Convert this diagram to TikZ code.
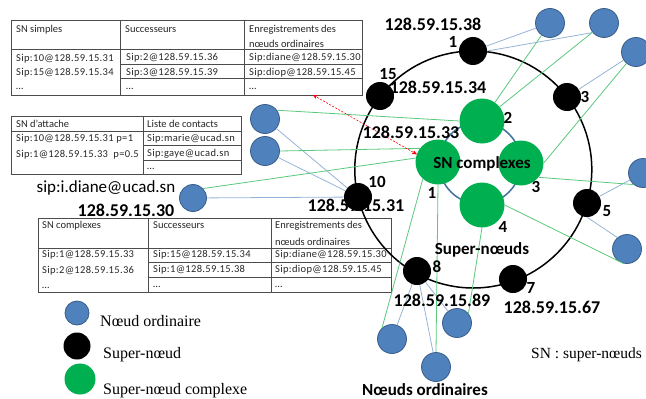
\documentclass[tikz,border=0pt]{standalone}
\usepackage{fontspec}
\setmainfont{Carlito}
\newfontfamily\timesfont{Liberation Serif}
\newfontfamily\sipfont[LetterSpace=3.2]{Carlito}
\usepackage{tikz}
\usetikzlibrary{arrows}
\definecolor{bleunoeud}{RGB}{79,129,189}
\definecolor{bordbleu}{RGB}{56,93,138}
\definecolor{vertsn}{RGB}{0,176,80}
\definecolor{lienbleu}{RGB}{149,179,215}
\definecolor{lienvert}{RGB}{90,200,125}
\definecolor{anneaubleu}{RGB}{65,113,156}

\begin{document}
\begin{tikzpicture}[x=1pt,y=-1pt]
\tikzstyle{ordinaire} = [circle, fill=bleunoeud, draw=bordbleu, line width=0.8pt, minimum size=29pt, inner sep=0pt]
\tikzstyle{super} = [circle, fill=black, minimum size=28pt, inner sep=0pt]
\tikzstyle{complexe} = [circle, fill=vertsn, minimum size=45pt, inner sep=0pt]
\tikzstyle{blue edge} = [draw=lienbleu, line width=0.8pt]
\tikzstyle{green edge} = [draw=lienvert, line width=0.8pt]
\tikzstyle{grille} = [draw=black!70, line width=0.9pt]
\tikzstyle{cell} = [anchor=base west, inner sep=0pt, font=\fontsize{10.5}{12}\selectfont, text=black!85]
\tikzstyle{sip} = [cell, font=\sipfont\fontsize{10.5}{12}\selectfont]
\tikzstyle{ip} = [inner sep=0pt, font=\fontsize{18}{18}\selectfont\bfseries]
\tikzstyle{num} = [inner sep=0pt, font=\fontsize{17}{17}\selectfont\bfseries]
\tikzstyle{legende} = [anchor=base west, inner sep=0pt, font=\timesfont\fontsize{16}{16}\selectfont]

\useasboundingbox (0,0) rectangle (646,399);

% tableaux
\draw[grille] (11,20) rectangle (362,95);
\draw[grille] (11,49) -- (362,49);
\draw[grille] (120,20) -- (120,95);
\draw[grille] (244,20) -- (244,95);
\draw[grille] (120,64) -- (362,64);
\draw[grille] (120,78) -- (362,78);

\draw[grille] (11,116) rectangle (241,174);
\draw[grille] (11,131) -- (241,131);
\draw[grille] (143,116) -- (143,174);
\draw[grille] (143,145) -- (241,145);
\draw[grille] (143,160) -- (241,160);

\draw[grille] (38,218) rectangle (391,292);
\draw[grille] (38,248) -- (391,248);
\draw[grille] (148,218) -- (148,292);
\draw[grille] (271,218) -- (271,292);
\draw[grille] (148,262) -- (391,262);
\draw[grille] (148,277) -- (391,277);

\node[cell] (t1h1) at (16,32) {SN simples};
\node[cell] (t1h2) at (125,32) {Successeurs};
\node[cell] (t1h3) at (249,32) {Enregistrements des};
\node[cell] (t1h4) at (249,47) {nœuds ordinaires};
\node[sip] (t1a1) at (16,61) {Sip:10@128.59.15.31};
\node[sip] (t1a2) at (16,75.5) {Sip:15@128.59.15.34};
\node[cell] (t1a3) at (16,89) {…};
\node[sip] (t1b1) at (126,60.5) {Sip:2@128.59.15.36};
\node[sip] (t1b2) at (126,75) {Sip:3@128.59.15.39};
\node[cell] (t1b3) at (126,89) {…};
\node[sip] (t1c1) at (249,60.5) {Sip:diane@128.59.15.30};
\node[sip] (t1c2) at (249,75) {Sip:diop@128.59.15.45};
\node[cell] (t1c3) at (249,89) {…};

\node[cell] (t2h1) at (16,127) {SN d’attache};
\node[cell] (t2h2) at (147,127) {Liste de contacts};
\node[sip] (t2a1) at (16,141) {Sip:10@128.59.15.31 p=1};
\node[sip] (t2a2) at (16,157.5) {Sip:1@128.59.15.33~ p=0.5};
\node[sip] (t2b1) at (147,141) {Sip:marie@ucad.sn};
\node[sip] (t2b2) at (147,156) {Sip:gaye@ucad.sn};
\node[cell] (t2b3) at (147,169.5) {…};

\node[cell] (t3h1) at (42,228.5) {SN complexes};
\node[cell] (t3h2) at (153,228.5) {Successeurs};
\node[cell] (t3h3) at (275,228.5) {Enregistrements des};
\node[cell] (t3h4) at (275,245) {nœuds ordinaires};
\node[sip] (t3a1) at (42,257.5) {Sip:1@128.59.15.33};
\node[sip] (t3a2) at (42,273.5) {Sip:2@128.59.15.36};
\node[cell] (t3a3) at (42,288) {…};
\node[sip] (t3b1) at (153,257.5) {Sip:15@128.59.15.34};
\node[sip] (t3b2) at (153,272.5) {Sip:1@128.59.15.38};
\node[cell] (t3b3) at (153,287.5) {…};
\node[sip] (t3c1) at (275,257.5) {Sip:diane@128.59.15.30};
\node[sip] (t3c2) at (275,272.5) {Sip:diop@128.59.15.45};
\node[cell] (t3c3) at (275,287.5) {…};

% anneaux
\draw[black, line width=1.5pt] (473.3,169.5) circle (118.5);
\draw[anneaubleu, line width=1.5pt] (480,163) circle (41);

\node[ip] (ip31) at (356,205) {128.59.15.31};

\node[super] (n1) at (473,51) {};
\node[super] (n15) at (380,96) {};
\node[super] (n3) at (567,97) {};
\node[super] (n10) at (358,197) {};
\node[super] (n5) at (587,203) {};
\node[super] (n8) at (417,271) {};
\node[super] (n7) at (513,279) {};

\node[complexe] (g1) at (438,162) {};
\node[complexe] (g2) at (482,121) {};
\node[complexe] (g3) at (521,163) {};
\node[complexe] (g4) at (482,205) {};

\node[ordinaire] (b1) at (550,23) {};
\node[ordinaire] (b2) at (604,23) {};
\node[ordinaire] (b3) at (636,52) {};
\node[ordinaire] (b4) at (643,173) {};
\node[ordinaire] (b5) at (627,249) {};
\node[ordinaire] (b6) at (265,119) {};
\node[ordinaire] (b7) at (265,151) {};
\node[ordinaire, minimum size=27pt] (diane) at (193,198) {};
\node[ordinaire] (b8) at (392,339) {};
\node[ordinaire] (b9) at (436,367) {};
\node[ordinaire] (b10) at (457,323) {};

\path (n1) edge[blue edge] (b1);
\path (n1.east) edge[blue edge] (b2.220);
\path (n3) edge[blue edge] (b3);
\path (n5) edge[blue edge] (b4);
\path (n5.south) edge[blue edge] (b5.130);
\path (n10) edge[blue edge] (b6);
\path (n10) edge[blue edge] (b7);
\path (n10) edge[blue edge] (diane);
\path (n8) edge[blue edge] (b8);
\path (n8) edge[blue edge] (b9);
\path (n8) edge[blue edge] (b10);

\path (g2) edge[green edge] (b1);
\path (g2) edge[green edge] (b2);
\path (g2.west) edge[green edge] (b6.36);
\path (g3.east) edge[green edge] (b3.230);
\path (g3.321) edge[green edge] (b4.231);
\path (g4.east) edge[green edge] (b5.256);
\path (g4.south) edge[green edge] (b10.40);
\path (g1.143) edge[green edge] (b7.east);
\path (g1.170) edge[green edge] (diane.43);
\path (g1.228) edge[green edge] (b8.132);
\path (g1.south) edge[green edge] (b9.north);

\coordinate (fleche) at (313,95);
\draw[red, line width=0.6pt, dash pattern=on 2pt off 1.5pt, <->, >=stealth'] (fleche) -- (g1.160);

\node[ip] (ip38) at (433,24) {128.59.15.38};
\node[ip] (ip34) at (438,87) {128.59.15.34};
\node[ip] (ip33) at (411,132) {128.59.15.33};
\node[ip] (ip30) at (126,210) {128.59.15.30};
\node[ip] (ip89) at (442,300) {128.59.15.89};
\node[ip] (ip67) at (552,307) {128.59.15.67};

\node[num] (k1) at (453,42) {1};
\node[num] (k15) at (388,74) {15};
\node[num] (k3) at (585,97) {3};
\node[num] (k10) at (377,182) {10};
\node[num] (k5) at (607,211) {5};
\node[num] (k8) at (437,267) {8};
\node[num] (k7) at (531,288) {7};
\node[num] (c2) at (508,118) {2};
\node[num] (c3) at (536,187) {3};
\node[num] (c1) at (432,193) {1};
\node[num] (c4) at (503,227) {4};

\node[num] (snc) at (482,164) {SN complexes};
\node[num] (snn) at (482,250) {Super-nœuds};
\node[num] (ord) at (425,390) {Nœuds ordinaires};
\node[inner sep=0pt, font=\fontsize{17}{17}\selectfont] (sipd) at (106,188) {sip:i.diane@ucad.sn};

% légende
\node[ordinaire, minimum size=24pt] (lb) at (77,313) {};
\node[super, minimum size=27pt] (ln) at (77,346) {};
\node[complexe, minimum size=31pt] (lv) at (80,379) {};
\node[legende] (lbt) at (100,326) {Nœud ordinaire};
\node[legende] (lnt) at (103,358) {Super-nœud};
\node[legende] (lvt) at (103,394) {Super-nœud complexe};
\node[legende, font=\timesfont\fontsize{15.5}{16}\selectfont] (snt) at (531,358) {SN : super-nœuds};
\end{tikzpicture}
\end{document}
